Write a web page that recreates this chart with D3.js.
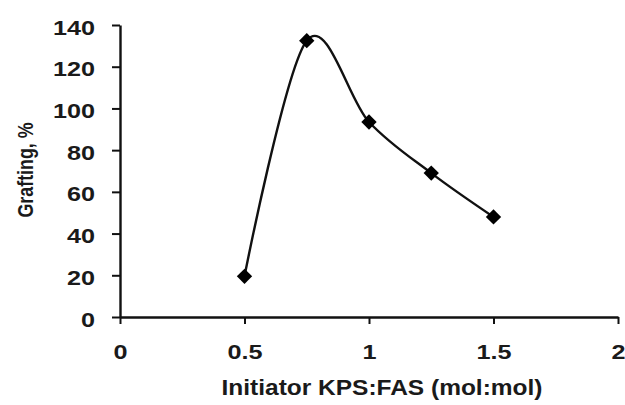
<!DOCTYPE html>
<html>
<head>
<meta charset="utf-8">
<script src="https://cdn.jsdelivr.net/npm/d3@7/dist/d3.min.js"></script>
<style>
  html, body { margin: 0; padding: 0; background: #fff; }
  svg { display: block; }
  text { font-family: "Liberation Sans", Arial, sans-serif; fill: #1a1a1a; font-weight: bold; }
</style>
</head>
<body>
<svg id="chart" width="625" height="405"></svg>
<script>
// initiator ratio vs. grafting percentage
const ratio = [0.5, 0.75, 1.0, 1.25, 1.5];
const grafting = [19.5, 132.5, 93.5, 69, 48];
const xTicks = [0, 0.5, 1, 1.5, 2];
const yTicks = [0, 20, 40, 60, 80, 100, 120, 140];

const svg = d3.select("#chart");
const width = 625, height = 405;
const margin = { top: 25, right: 7, bottom: 88, left: 120 };
const stretch = 1.2; // labels are set wide

const x = d3.scaleLinear().domain([0, 2]).range([margin.left, width - margin.right]);
const y = d3.scaleLinear().domain([0, 140]).range([height - margin.bottom, margin.top]);

const xAxis = g => g
  .attr("transform", `translate(0,${y(0)})`)
  .call(d3.axisBottom(x).tickValues(xTicks).tickSize(7).tickSizeOuter(0).tickFormat(d3.format("")));

const yAxis = g => g
  .attr("transform", `translate(${x(0)},0)`)
  .call(d3.axisLeft(y).tickValues(yTicks).tickSize(8).tickSizeOuter(0));

const gx = svg.append("g").call(xAxis);
const gy = svg.append("g").call(yAxis);

[gx, gy].forEach(g => {
  g.selectAll(".domain").attr("stroke", "#111").attr("stroke-width", 2.4);
  g.selectAll(".tick line").attr("stroke", "#111").attr("stroke-width", 2);
});

gx.selectAll(".tick text")
  .attr("font-size", 21).attr("fill", "#222").attr("font-family", null)
  .attr("y", 0).attr("dy", 0)
  .attr("transform", `translate(0,42) scale(${stretch},1)`);

gy.selectAll(".tick text")
  .attr("font-size", 21).attr("fill", "#222").attr("font-family", null)
  .attr("x", 0).attr("dy", 0)
  .attr("transform", `translate(-25,9) scale(${stretch},1)`);

// smoothed line through the points
const line = d3.line()
  .x((d, i) => x(ratio[i]))
  .y(d => y(d))
  .curve(d3.curveCardinal.tension(0));

svg.append("path")
  .datum(grafting)
  .attr("fill", "none")
  .attr("stroke", "#111")
  .attr("stroke-width", 2.4)
  .attr("d", line);

svg.append("g")
  .selectAll("path")
  .data(grafting)
  .join("path")
  .attr("transform", (d, i) => `translate(${x(ratio[i])},${y(d)})`)
  .attr("d", d3.symbol(d3.symbolDiamond2, 150))
  .attr("fill", "#000");

svg.append("text")
  .attr("x", 382)
  .attr("y", 395)
  .attr("text-anchor", "middle")
  .attr("font-size", 22)
  .attr("fill", "#222")
  .attr("textLength", 321)
  .attr("lengthAdjust", "spacingAndGlyphs")
  .text("Initiator KPS:FAS (mol:mol)");

svg.append("text")
  .attr("transform", "translate(33,170) rotate(-90) scale(1,1.2)")
  .attr("text-anchor", "middle")
  .attr("font-size", 19)
  .attr("fill", "#222")
  .attr("textLength", 95)
  .attr("lengthAdjust", "spacingAndGlyphs")
  .text("Grafting, %");
</script>
</body>
</html>
